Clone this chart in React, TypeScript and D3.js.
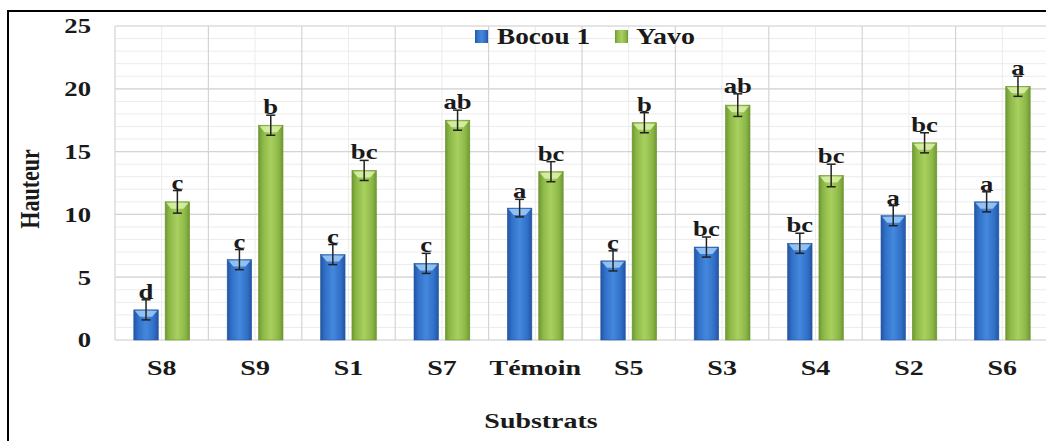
import React from "react";
import * as d3 from "d3";

const substrats = ["S8", "S9", "S1", "S7", "Témoin", "S5", "S3", "S4", "S2", "S6"];
const bocou = [2.4, 6.4, 6.8, 6.1, 10.5, 6.3, 7.4, 7.7, 9.9, 11.0];
const bocouErr = [0.8, 0.8, 0.8, 0.8, 0.7, 0.8, 0.8, 0.8, 0.8, 0.8];
const bocouLetters = ["d", "c", "c", "c", "a", "c", "bc", "bc", "a", "a"];
const yavo = [11.0, 17.1, 13.5, 17.5, 13.4, 17.3, 18.7, 13.1, 15.7, 20.2];
const yavoErr = [0.9, 0.8, 0.8, 0.8, 0.8, 0.8, 0.9, 0.9, 0.8, 0.8];
const yavoLetters = ["c", "b", "bc", "ab", "bc", "b", "ab", "bc", "bc", "a"];
const seriesNames = ["Bocou 1", "Yavo"];
const yTicks = [0, 5, 10, 15, 20, 25];

const W = 1046;
const H = 441;
const plot = { left: 115, right: 1049, top: 26, bottom: 340 };
const serif: React.CSSProperties = { fontFamily: '"Liberation Serif", "DejaVu Serif", serif', fontWeight: 700 };
const STRETCH = 1.27; // wide bold serif lettering

function Label(props: {
  x: number;
  y: number;
  size: number;
  anchor?: "start" | "middle" | "end";
  rotate?: number;
  dy?: string;
  children: React.ReactNode;
}) {
  const { x, y, size, anchor = "middle", rotate = 0, dy, children } = props;
  const t = rotate
    ? `translate(${x},${y}) rotate(${rotate}) scale(1,${STRETCH})`
    : `translate(${x},${y}) scale(${STRETCH},1)`;
  return (
    <text transform={t} textAnchor={anchor} fontSize={size} dy={dy} fill="#1a1a1a" style={serif}>
      {children}
    </text>
  );
}

export default function App() {
  const x = d3.scaleBand<string>().domain(substrats).range([plot.left, plot.right]).padding(0);
  const inner = d3
    .scaleBand<string>()
    .domain(seriesNames)
    .range([0, x.bandwidth()])
    .paddingInner(0.22)
    .paddingOuter(0.6);
  const y = d3.scaleLinear().domain([0, 25]).range([plot.bottom, plot.top]);

  const minor = d3.range(0, 26, 1);
  const series = [
    { name: seriesNames[0], values: bocou, err: bocouErr, letters: bocouLetters, grad: "gBlue", cap: "#a2cdf4", edge: "#2456a6" },
    { name: seriesNames[1], values: yavo, err: yavoErr, letters: yavoLetters, grad: "gGreen", cap: "#ddf2ab", edge: "#6b942c" },
  ];

  return (
    <svg width={W} height={H} style={{ position: "absolute", left: 0, top: 0, background: "#fff" }}>
      <defs>
        <linearGradient id="gBlue" x1="0" x2="1" y1="0" y2="0">
          <stop offset="0" stopColor="#2354a2" />
          <stop offset="0.18" stopColor="#3170c8" />
          <stop offset="0.5" stopColor="#4488dd" />
          <stop offset="0.82" stopColor="#3170c8" />
          <stop offset="1" stopColor="#2354a2" />
        </linearGradient>
        <linearGradient id="gGreen" x1="0" x2="1" y1="0" y2="0">
          <stop offset="0" stopColor="#6e9830" />
          <stop offset="0.18" stopColor="#8db848" />
          <stop offset="0.5" stopColor="#a8d05e" />
          <stop offset="0.82" stopColor="#8db848" />
          <stop offset="1" stopColor="#6e9830" />
        </linearGradient>
      </defs>

      {/* frame */}
      <line x1={8} x2={W} y1={11} y2={11} stroke="#000" strokeWidth={2} />
      <line x1={8} x2={8} y1={10} y2={H} stroke="#000" strokeWidth={2} />

      {/* minor horizontal grid */}
      {minor.map((v) => (
        <line key={"mh" + v} x1={plot.left} x2={plot.right} y1={y(v)} y2={y(v)} stroke="#ececec" strokeWidth={1} />
      ))}
      {/* minor vertical grid at category centres */}
      {substrats.map((s) => (
        <line
          key={"mv" + s}
          x1={(x(s) as number) + x.bandwidth() / 2}
          x2={(x(s) as number) + x.bandwidth() / 2}
          y1={plot.top}
          y2={plot.bottom}
          stroke="#ececec"
        />
      ))}
      {/* major grid */}
      {yTicks.map((v) => (
        <line key={"h" + v} x1={plot.left} x2={plot.right} y1={y(v)} y2={y(v)} stroke="#d4d4d4" strokeWidth={1.2} />
      ))}
      {substrats.map((s) => (
        <line key={"v" + s} x1={x(s)} x2={x(s)} y1={plot.top} y2={plot.bottom} stroke="#d4d4d4" strokeWidth={1.2} />
      ))}

      {/* y tick labels */}
      {yTicks.map((v) => (
        <Label key={"t" + v} x={91} y={y(v)} dy="0.35em" anchor="end" size={21}>
          {v}
        </Label>
      ))}

      {/* bars, error bars and letters */}
      {series.map((sr) =>
        substrats.map((s, i) => {
          const bx = (x(s) as number) + (inner(sr.name) as number);
          const bw = inner.bandwidth();
          const v = sr.values[i];
          const top = y(v);
          const cx = bx + bw / 2;
          const eTop = y(v + sr.err[i]);
          const eBot = y(v - sr.err[i]);
          return (
            <g key={sr.name + s}>
              <rect x={bx} y={top} width={bw} height={plot.bottom - top} fill={`url(#${sr.grad})`} stroke={sr.edge} strokeWidth={0.6} />
              <path
                d={`M${bx + 1},${top + 1} L${bx + bw - 1},${top + 1} L${cx + bw * 0.25},${top + 7} L${cx - bw * 0.25},${top + 7} Z`}
                fill={sr.cap}
                opacity={0.85}
              />
              <line x1={cx} x2={cx} y1={eTop} y2={eBot} stroke="#222" strokeWidth={1.5} />
              <line x1={cx - 4.5} x2={cx + 4.5} y1={eTop} y2={eTop} stroke="#222" strokeWidth={1.5} />
              <line x1={cx - 4.5} x2={cx + 4.5} y1={eBot} y2={eBot} stroke="#222" strokeWidth={1.5} />
              <Label x={cx} y={eTop - 1} size={21}>
                {sr.letters[i]}
              </Label>
            </g>
          );
        })
      )}

      {/* category labels */}
      {substrats.map((s) => (
        <Label key={"c" + s} x={(x(s) as number) + x.bandwidth() / 2} y={375} size={22}>
          {s}
        </Label>
      ))}

      {/* axis titles */}
      <Label x={541} y={428} size={22}>
        Substrats
      </Label>
      <Label x={39} y={189} size={22} rotate={-90}>
        Hauteur
      </Label>

      {/* legend */}
      <rect x={475} y={30} width={13} height={13} fill="url(#gBlue)" />
      <text x={497} y={44} fontSize={23} fill="#1a1a1a" style={serif} textLength={93} lengthAdjust="spacingAndGlyphs">
        {seriesNames[0]}
      </text>
      <rect x={615} y={30} width={13} height={13} fill="url(#gGreen)" />
      <text x={636} y={44} fontSize={23} fill="#1a1a1a" style={serif} textLength={59} lengthAdjust="spacingAndGlyphs">
        {seriesNames[1]}
      </text>
    </svg>
  );
}
